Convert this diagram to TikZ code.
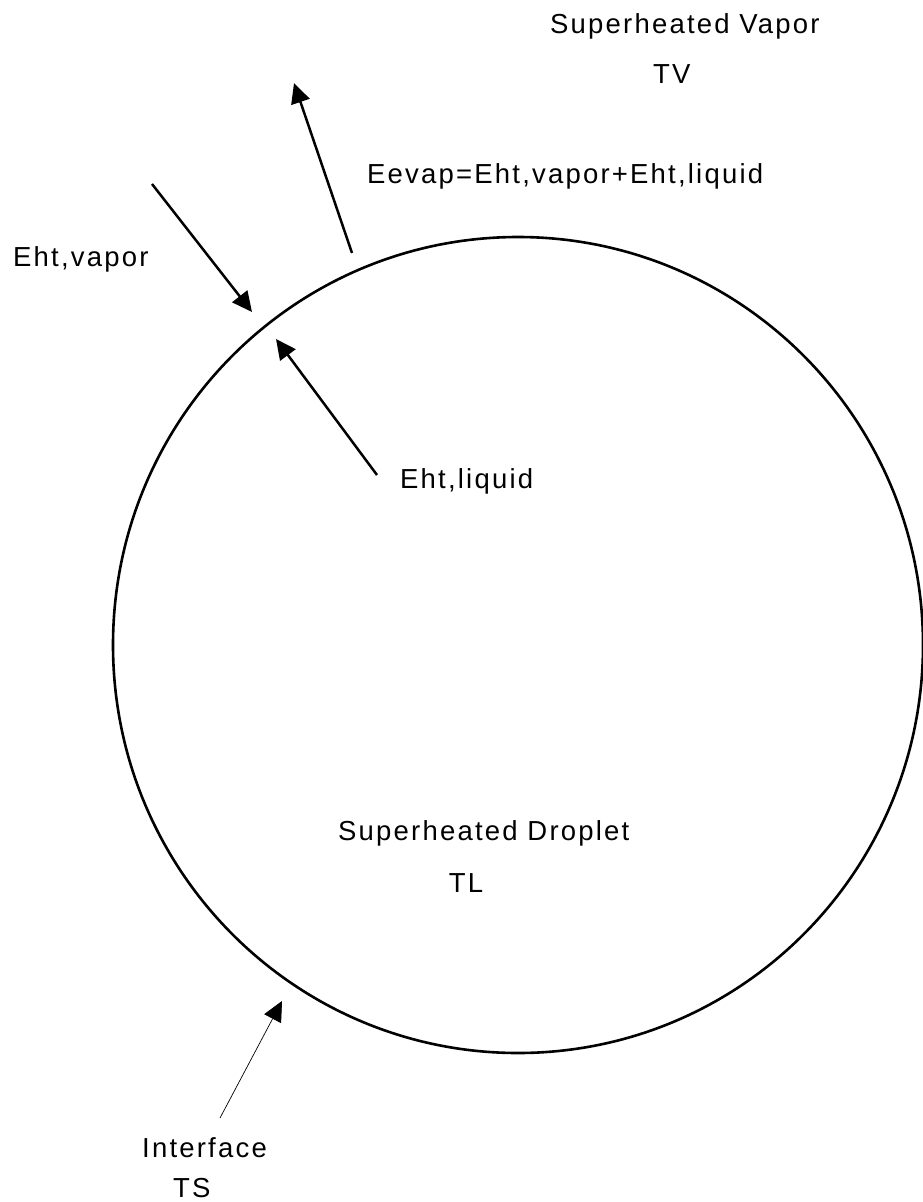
\documentclass[tikz,border=0pt]{standalone}
\usepackage{fontspec}
\setmainfont{Liberation Sans}[LetterSpace=8]
\usetikzlibrary{arrows.meta}
\begin{document}
\begin{tikzpicture}[x=1pt,y=-1pt,
  lbl/.style={inner sep=0pt,font=\fontsize{27.5}{30}\selectfont},
  flow/.style={line width=2.5pt,-{Triangle[length=20pt,width=19pt]}},
  thinflow/.style={line width=0.7pt,-{Triangle[length=20pt,width=19pt]}}]
\useasboundingbox (0,0) rectangle (923,1202);
\fill[white] (0,0) rectangle (923,1202);
% droplet
\draw[line width=2.6pt] (518,645) ellipse [x radius=405, y radius=408];
% labels
\node[lbl,anchor=base west] (vap) at (550,33) {Superheated Vapor};
\node[lbl,anchor=base west] (tv) at (653,83) {TV};
\node[lbl,anchor=base west] (eevap) at (367,183) {Eevap=Eht,vapor+Eht,liquid};
\node[lbl,anchor=base west] (ehtv) at (13,266) {Eht,vapor};
\node[lbl,anchor=base west] (ehtl) at (400,488) {Eht,liquid};
\node[lbl,anchor=base west] (drop) at (338,840) {Superheated Droplet};
\node[lbl,anchor=base] (tl) at (466,892) {TL};
\node[lbl,anchor=base west] (intf) at (142,1157) {Interface};
\node[lbl,anchor=base west] (ts) at (173,1197) {TS};
% arrow end points
\coordinate (avs) at (152,184);
\coordinate (avt) at (252,312);
\coordinate (aes) at (352,253);
\coordinate (aet) at (294,83);
\coordinate (als) at (377,475);
\coordinate (alt) at (276,339);
\coordinate (ais) at (220,1118);
\coordinate (ait) at (282,1001);
\draw[flow] (avs) -- (avt);
\draw[flow] (aes) -- (aet);
\draw[flow] (als) -- (alt);
\draw[thinflow] (ais) -- (ait);
\end{tikzpicture}
\end{document}
